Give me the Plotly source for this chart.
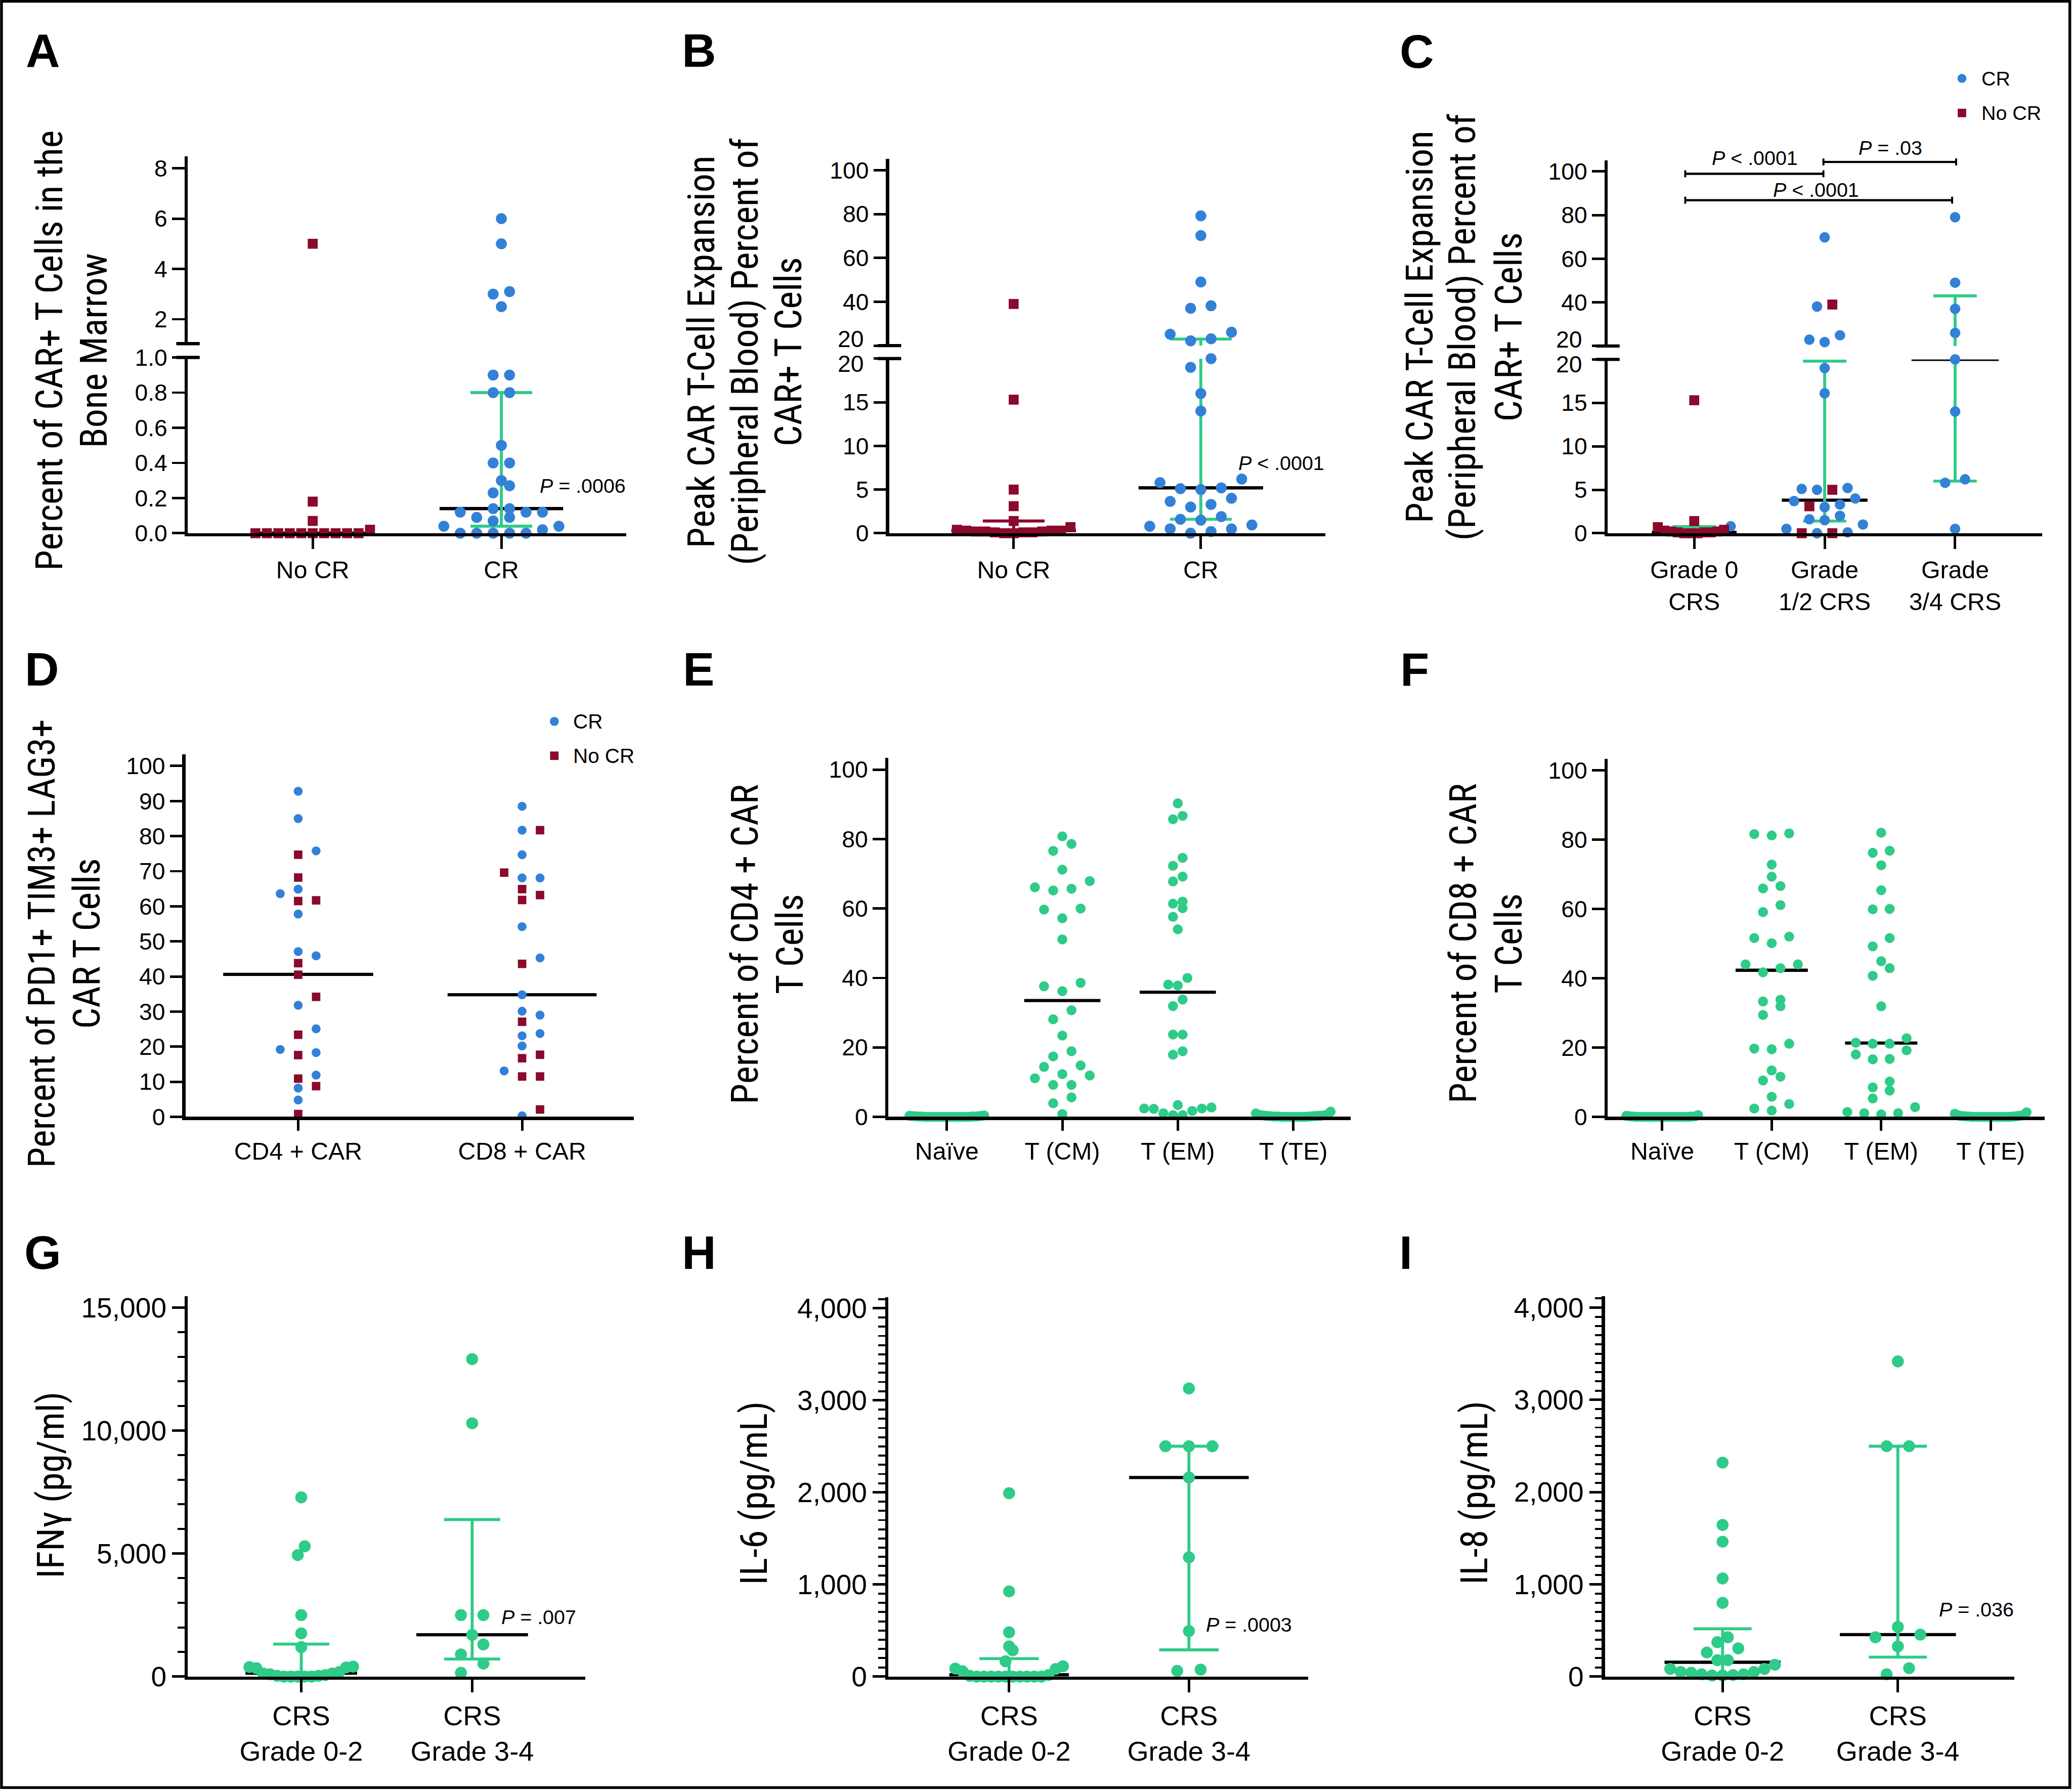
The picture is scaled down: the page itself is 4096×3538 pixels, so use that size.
import plotly.graph_objects as go

# ===================== DATA =====================
A_CATS = ["No CR", "CR"]
A_NOCR = [5.0, 0.18, 0.07, 0.02, 0, 0, 0, 0, 0, 0, 0, 0, 0, 0]
A_CR = [6.0, 5.0, 3.1, 3.0, 2.5, 0.9, 0.9, 0.8, 0.8, 0.5, 0.4, 0.4, 0.3, 0.27, 0.23,
        0.14, 0.14, 0.12, 0.12, 0.12, 0.09, 0.09, 0.07, 0.04, 0.04, 0.02, 0, 0, 0, 0, 0]
A_MEDIAN = [0.0, 0.14]
A_Q1 = [None, 0.04]
A_Q3 = [None, 0.80]
A_TICKS_LOW = [0, 0.2, 0.4, 0.6, 0.8, 1.0]
A_TICKTEXT_LOW = ["0.0", "0.2", "0.4", "0.6", "0.8", "1.0"]
A_TICKS_HIGH = [2, 4, 6, 8]
A_TICKTEXT_HIGH = ["2", "4", "6", "8"]
A_TITLE = ["Percent of CAR+ T Cells in the", "Bone Marrow"]
A_P = "<i>P</i> = .0006"

B_CATS = ["No CR", "CR"]
B_NOCR = [39, 15.3, 5.0, 3.1, 1.4, 0.7, 0.4, 0.3, 0.3, 0.3, 0.2, 0.2, 0.2, 0.1, 0.1, 0.1, 0.0, 0.0]
B_CR = [79.2, 70.2, 49, 38.2, 37, 26.1, 25.2, 23.1, 22.2, 20.0, 19.0, 16.0, 14.0, 6.2, 5.8, 5.2,
        5.1, 5.0, 4.0, 3.65, 3.3, 3.0, 1.9, 1.6, 1.5, 0.95, 0.8, 0.5, 0.5, 0.2, 0.0]
B_MEDIAN = [0.3, 5.2]
B_Q1 = [0.1, 1.6]
B_Q3 = [1.4, 23.0]
B_TICKS_LOW = [0, 5, 10, 15, 20]
B_TICKTEXT_LOW = ["0", "5", "10", "15", ""]
B_TICKS_HIGH = [20, 40, 60, 80, 100]
B_TICKTEXT_HIGH = ["", "40", "60", "80", "100"]
BREAK_LABEL = "20"
B_TITLE = ["Peak CAR T-Cell Expansion", "(Peripheral Blood) Percent of", "CAR+ T Cells"]
B_P = "<i>P</i> &lt; .0001"

C_CATS = ["Grade 0<br>CRS", "Grade<br>1/2 CRS", "Grade<br>3/4 CRS"]
C_CR = [[0.8],
        [69.8, 38.1, 24.9, 22.9, 21.8, 19.0, 16.1, 5.2, 5.1, 5.0, 4.0, 3.7, 3.3, 3.0, 2.0, 1.6, 1.5,
         1.0, 0.5, 0.1, 0.0],
        [79, 49, 37, 26, 20, 14, 6.2, 5.8, 0.5]]
C_NOCR = [[15.3, 1.4, 0.7, 0.4, 0.3, 0.2, 0.2, 0.1, 0.1, 0.1, 0, 0, 0],
          [39, 5.0, 3.1, 0.0, 0.0],
          []]
C_MEDIAN = [0.1, 3.8, 20.0]
C_Q1 = [0.0, 1.4, 6.0]
C_Q3 = [0.76, 19.8, 43.0]
C_PTEXT = ["<i>P</i> &lt; .0001", "<i>P</i> = .03", "<i>P</i> &lt; .0001"]
LEGEND_LABELS = ["CR", "No CR"]

D_CATS = ["CD4 + CAR", "CD8 + CAR"]
D_CR = [[92.8, 85.0, 75.8, 64.9, 63.6, 57.8, 47.1, 45.9, 31.8, 25.1, 19.2, 18.3, 11.9, 8.2, 4.8],
        [88.5, 81.7, 74.7, 68.1, 68.1, 54.2, 45.3, 34.8, 30.1, 29.0, 23.75, 23.1, 20.2, 13.1, 0.3]]
D_NOCR = [[74.7, 68.2, 61.7, 61.5, 43.8, 40.5, 34.2, 23.4, 17.6, 10.9, 8.75, 0.8],
          [81.7, 69.6, 64.9, 63.2, 61.8, 43.6, 27.1, 17.7, 16.7, 11.5, 11.5, 2.1]]
D_MEDIAN = [40.6, 34.8]
D_TICKS = [0, 10, 20, 30, 40, 50, 60, 70, 80, 90, 100]
D_TICKTEXT = ["0", "10", "20", "30", "40", "50", "60", "70", "80", "90", "100"]
D_TITLE = ["Percent of PD1+ TIM3+ LAG3+", "CAR T Cells"]

MEM_CATS = ["Naïve", "T (CM)", "T (EM)", "T (TE)"]
PCT_TICKS = [0, 20, 40, 60, 80, 100]
PCT_TICKTEXT = ["0", "20", "40", "60", "80", "100"]
E_VALUES = [
    [0.4, 0.3, 0.3, 0.2, 0.2, 0.2, 0.1, 0.1, 0.1, 0.1, 0.1, 0.1] + [0.0] * 18,
    [80.8, 78.6, 76.6, 71.2, 67.9, 66.1, 65.7, 65.2, 60.0, 59.7, 57.2, 51.1, 38.6, 37.6, 36.2,
     30.7, 28.1, 23.4, 18.9, 17.4, 14.8, 14.4, 12.3, 11.9, 11.1, 9.2, 9.2, 5.6, 3.9, 0.8],
    [90.3, 86.7, 85.7, 74.6, 72.3, 69.2, 67.8, 62.0, 61.4, 60.1, 57.6, 54.0, 40.0, 38.1, 37.8,
     33.8, 31.9, 23.7, 23.7, 18.9, 17.9, 3.4, 2.7, 2.4, 2.4, 2.3, 1.7, 1.05, 0.5, 0.5],
    [1.5, 1.0, 0.8, 0.6, 0.5, 0.5, 0.4, 0.4, 0.3, 0.3, 0.3, 0.2, 0.2, 0.2, 0.2, 0.1, 0.1, 0.1,
     0.1, 0.1] + [0.0] * 10,
]
E_MEDIAN = [0.0, 33.5, 35.9, 0.0]
E_TITLE = ["Percent of CD4 + CAR", "T Cells"]

F_VALUES = [
    [0.5, 0.3, 0.2, 0.2, 0.1, 0.1, 0.1, 0.1] + [0.0] * 22,
    [81.8, 81.6, 81.2, 72.8, 69.3, 66.6, 65.9, 61.1, 59.1, 52.0, 51.6, 50.1, 44.0, 44.0, 42.9,
     41.7, 33.8, 33.3, 31.9, 29.4, 21.1, 19.7, 19.5, 13.4, 11.6, 10.5, 5.8, 3.7, 2.4, 1.8],
    [82.0, 76.8, 76.2, 72.6, 65.4, 60.0, 59.9, 51.6, 49.2, 44.9, 42.9, 40.7, 31.9, 22.7, 21.4,
     21.1, 21.1, 19.2, 18.0, 16.7, 16.6, 10.2, 8.5, 7.6, 5.3, 2.8, 1.4, 1.05, 1.05, 0.7],
    [1.3, 0.9, 0.6, 0.5, 0.4, 0.3, 0.3, 0.2, 0.2, 0.2, 0.1, 0.1, 0.1, 0.1] + [0.0] * 16,
]
F_MEDIAN = [0.0, 42.3, 21.3, 0.0]
F_TITLE = ["Percent of CD8 + CAR", "T Cells"]

CRS_CATS = ["CRS<br>Grade 0-2", "CRS<br>Grade 3-4"]
G_VALUES = [[7283, 5295, 4938, 2500, 1755, 1196, 404, 388, 373, 342, 186, 124, 124, 93, 62, 31, 31,
             0, 0, 0, 0, 0],
            [12904, 10295, 2500, 2500, 1693, 1304, 901, 528, 155]]
G_MEDIAN = [140, 1700]
G_Q1 = [20, 714]
G_Q3 = [1320, 6382]
G_TICKS = [0, 5000, 10000, 15000]
G_TICKTEXT = ["0", "5,000", "10,000", "15,000"]
G_TITLE = ["IFNγ (pg/ml)"]
G_P = "<i>P</i> = .007"

H_VALUES = [[1992, 925, 481, 328, 286, 166, 112, 87, 83, 58, 17, 8, 0, 0, 0, 0, 0, 0, 0, 0, 0, 0],
            [3129, 2502, 2502, 2502, 2162, 1295, 494, 75, 62]]
H_MEDIAN = [20, 2162]
H_Q1 = [0, 290]
H_Q3 = [195, 2502]
K_TICKS = [0, 1000, 2000, 3000, 4000]
K_TICKTEXT = ["0", "1,000", "2,000", "3,000", "4,000"]
H_TITLE = ["IL-6 (pg/mL)"]
H_P = "<i>P</i> = .0003"

I_VALUES = [[2319, 1644, 1462, 1064, 799, 426, 373, 306, 261, 178, 178, 128, 83, 83, 50, 50, 41, 25,
             25, 17, 12, 12],
            [3416, 2497, 2497, 538, 455, 426, 327, 91, 25]]
I_MEDIAN = [155, 455]
I_Q1 = [30, 211]
I_Q3 = [518, 2497]
I_TITLE = ["IL-8 (pg/mL)"]
I_P = "<i>P</i> = .036"

# ===================== STYLE / GEOMETRY =====================
K = 0.985
FW, FH = 4096, 3538
RW, RH = FW / K, FH / K


def PX(x):
    return x / RW


def PY(y):
    return 1.0 - y / RH


def S(v):
    return v * K


TITLE_FONT = "Liberation Sans Narrow, Arial Narrow, Roboto Condensed, Liberation Sans, sans-serif"
FONT = "Liberation Sans, Arial, Helvetica, sans-serif"
BOLD = "Liberation Sans, Arial, Helvetica, sans-serif"
BLUE, RED, GREEN, BLACK = "#3281D7", "#8A0A2C", "#2FCB88", "#000000"
STYLE = {"CR": (BLUE, "circle"), "NOCR": (RED, "square"), "G": (GREEN, "circle")}
AXIS_W, MED_W, IQR_W = 6.5, 6.5, 6

fig = go.Figure()
LAYOUT, SHAPES, ANNOTS = {}, [], []
_count = {"x": 0, "y": 0}


def new_axis(kind):
    _count[kind] += 1
    n = _count[kind]
    return (f"{kind}axis" if n == 1 else f"{kind}axis{n}", kind if n == 1 else f"{kind}{n}")


def axis_common(ticklen):
    return dict(showline=True, linecolor=BLACK, linewidth=S(AXIS_W), showgrid=False, zeroline=False,
                ticks="outside", tickcolor=BLACK, tickwidth=S(5), ticklen=S(ticklen),
                fixedrange=True, tickmode="array", automargin=False)


def text_ann(x, y, text, size, xanchor="center", yanchor="middle", angle=0, family=FONT):
    ANNOTS.append(dict(x=PX(x), y=PY(y), xref="paper", yref="paper", text=text, showarrow=False,
                       xanchor=xanchor, yanchor=yanchor, textangle=angle,
                       font=dict(family=family, size=S(size), color=BLACK)))


def paper_line(x0, y0, x1, y1, width, color=BLACK):
    SHAPES.append(dict(type="line", xref="paper", yref="paper", x0=PX(x0), y0=PY(y0),
                       x1=PX(x1), y1=PY(y1), line=dict(color=color, width=S(width))))


def swarm_offsets(vals, vpix, step, wmax, thr, centered=True):
    n = len(vals)
    order = sorted(range(n), key=lambda i: (vals[i], i))
    off = [0.0] * n
    rows, cur = [], []
    for i in order:
        if cur and abs(vpix[i] - vpix[cur[0]]) > thr:
            rows.append(cur)
            cur = []
        cur.append(i)
    if cur:
        rows.append(cur)
    for row in rows:
        m = len(row)
        s = step
        if m > 1 and (m - 1) * s > 2 * wmax:
            s = 2 * wmax / (m - 1)
        if centered:
            slots = [(k - (m - 1) / 2) * s for k in range(m)]
            slots.sort(key=lambda z: (round(abs(z), 6), z))
        else:
            slots = [0.0]
            k = 1
            while len(slots) < m:
                slots.append(k * s)
                if len(slots) < m:
                    slots.append(-k * s)
                k += 1
        for i, sl in zip(row, slots):
            off[i] = sl
    return off


def build_panel(P):
    segs = P["segs"]
    xkey, xref = new_axis("x")
    yaxes = []
    for seg in segs:
        ykey, yref = new_axis("y")
        f = (seg["v2"] - seg["v1"]) / (seg["p2"] - seg["p1"])
        seg["range"] = [seg["v1"] + (seg["pb"] - seg["p1"]) * f,
                        seg["v1"] + (seg["pt"] - seg["p1"]) * f]
        ax = axis_common(25)
        ax.update(domain=[PY(seg["pb"]), PY(seg["pt"])], range=seg["range"], anchor=xref,
                  tickvals=seg["tickvals"], ticktext=seg["ticktext"],
                  tickfont=dict(family=FONT, size=S(P["tickfont"]), color=BLACK))
        if P.get("minor"):
            ax["minor"] = dict(tickmode="linear", tick0=0, dtick=P["minor"], ticks="outside",
                               ticklen=S(14), tickwidth=S(4), tickcolor=BLACK, showgrid=False)
        LAYOUT[ykey] = ax
        yaxes.append(yref)
    cpx = P["cats_px"]
    n = len(cpx)
    scale = (cpx[-1] - cpx[0]) / (n - 1)
    ax = axis_common(P.get("xticklen", 25))
    ax.update(domain=[PX(P["ax"]), PX(P["xr"])],
              range=[(P["ax"] - cpx[0]) / scale, (P["xr"] - cpx[0]) / scale],
              anchor=yaxes[0], tickvals=list(range(n)), ticktext=P["cats"],
              tickfont=dict(family=FONT, size=S(P["catfont"]), color=BLACK))
    LAYOUT[xkey] = ax

    def seg_index(v):
        if len(segs) > 1 and v > segs[0]["range"][1] + 1e-9:
            return 1
        return 0

    def vpix(v):
        s = segs[seg_index(v)]
        return s["p1"] + (v - s["v1"]) * (s["p2"] - s["p1"]) / (s["v2"] - s["v1"])

    def line_trace(xs, ys, j, color, width):
        fig.add_trace(go.Scatter(x=xs, y=ys, xaxis=xref, yaxis=yaxes[j], mode="lines",
                                 line=dict(color=color, width=S(width)), hoverinfo="skip",
                                 showlegend=False))

    def hline(ci, half, v, color, width):
        line_trace([ci - half / scale, ci + half / scale], [v, v], seg_index(v), color, width)

    def vline(ci, v0, v1, color, width):
        j0, j1 = seg_index(v0), seg_index(v1)
        if j0 == j1:
            line_trace([ci, ci], [v0, v1], j0, color, width)
        else:
            line_trace([ci, ci], [v0, segs[0]["range"][1]], 0, color, width)
            line_trace([ci, ci], [segs[1]["range"][0], v1], 1, color, width)

    for ci in range(n):
        if P["median"][ci] is not None:
            hline(ci, P["med_w"][ci] / 2, P["median"][ci], BLACK, MED_W)
        q1 = P.get("q1", [None] * n)[ci]
        q3 = P.get("q3", [None] * n)[ci]
        if q1 is not None and q3 is not None:
            col = P["iqr_color"][ci]
            vline(ci, q1, q3, col, IQR_W)
            hline(ci, P["cap_w"] / 2, q1, col, IQR_W)
            hline(ci, P["cap_w"] / 2, q3, col, IQR_W)

    for ci, groups in enumerate(P["groups"]):
        vals, keys = [], []
        for arr, key in groups:
            vals += list(arr)
            keys += [key] * len(arr)
        if not vals:
            continue
        pix = [vpix(v) for v in vals]
        offs = swarm_offsets(vals, pix, P["steps"][ci], P["wmax"], P["msize"],
                             P.get("centered", True))
        for key in dict.fromkeys(keys):
            color, sym = STYLE[key]
            size = P.get("ssize", P["msize"]) if sym == "square" else P["msize"]
            for j in range(len(segs)):
                idx = [k for k in range(len(vals)) if keys[k] == key and seg_index(vals[k]) == j]
                if not idx:
                    continue
                fig.add_trace(go.Scatter(
                    x=[ci + offs[k] / scale for k in idx], y=[vals[k] for k in idx],
                    xaxis=xref, yaxis=yaxes[j], mode="markers", cliponaxis=False,
                    marker=dict(color=color, symbol=sym, size=S(size), line=dict(width=0)),
                    hoverinfo="skip", showlegend=False))

    if len(segs) > 1:
        for p in (segs[0]["pt"], segs[1]["pb"]):
            paper_line(P["ax"] - 23, p, P["ax"] + 24, p, AXIS_W)
        if P.get("break_label"):
            text_ann(P["ax"] - 50, segs[1]["pb"] - 13, BREAK_LABEL, P["tickfont"], xanchor="right")
            text_ann(P["ax"] - 50, segs[0]["pt"] + 10, BREAK_LABEL, P["tickfont"], xanchor="right")
    for x, t in zip(P["title_x"], P["title"]):
        text_ann(x, P["title_y"], t, 75, angle=-90, family=TITLE_FONT)
    text_ann(P["letter_xy"][0], P["letter_xy"][1], "<b>%s</b>" % P["letter"], 95, family=BOLD)
    if P.get("ptext"):
        text_ann(P["p_xy"][0], P["p_xy"][1], P["ptext"], 40)
    return scale


TICK_S, CAT_S = 47, 49
TICK_L, CAT_L = 56, 55

PA = dict(letter="A", letter_xy=(86, 101), ax=376.8, xr=1257, cats_px=[627.6, 1006.2], cats=A_CATS,
          segs=[dict(v1=0, p1=1070, v2=1.0, p2=717.3, pb=1070, pt=717.3,
                     tickvals=A_TICKS_LOW, ticktext=A_TICKTEXT_LOW),
                dict(v1=2, p1=640.6, v2=8, p2=337.7, pb=689.6, pt=314,
                     tickvals=A_TICKS_HIGH, ticktext=A_TICKTEXT_HIGH)],
          groups=[[(A_NOCR, "NOCR")], [(A_CR, "CR")]],
          median=A_MEDIAN, q1=A_Q1, q3=A_Q3, iqr_color=[RED, GREEN], med_w=[248, 248], cap_w=124,
          steps=[23, 33], wmax=120, msize=22, ssize=20, tickfont=TICK_S, catfont=CAT_S,
          title=A_TITLE, title_x=[99, 188], title_y=704, ptext=A_P, p_xy=(1170, 975))

PB = dict(letter="B", letter_xy=(1403, 101), ax=1784.6, xr=2659.8, cats_px=[2034.4, 2410.0],
          cats=B_CATS,
          segs=[dict(v1=0, p1=1070, v2=20, p2=719.6, pb=1070, pt=719.6,
                     tickvals=B_TICKS_LOW, ticktext=B_TICKTEXT_LOW),
                dict(v1=20, p1=693.5, v2=100, p2=341.6, pb=693.5, pt=318.7,
                     tickvals=B_TICKS_HIGH, ticktext=B_TICKTEXT_HIGH)],
          groups=[[(B_NOCR, "NOCR")], [(B_CR, "CR")]],
          median=B_MEDIAN, q1=B_Q1, q3=B_Q3, iqr_color=[RED, GREEN], med_w=[250, 250], cap_w=124,
          steps=[19, 41], wmax=120, msize=22, ssize=20, tickfont=TICK_S, catfont=CAT_S,
          break_label=True,
          title=B_TITLE, title_x=[1408, 1495, 1582.5], title_y=706, ptext=B_P, p_xy=(2572, 929))

PC = dict(letter="C", letter_xy=(2844, 103), ax=3226.5, xr=4098.3,
          cats_px=[3400.2, 3661.5, 3923.8], cats=C_CATS,
          segs=[dict(v1=0, p1=1070, v2=20, p2=721.2, pb=1070, pt=721.2,
                     tickvals=B_TICKS_LOW, ticktext=B_TICKTEXT_LOW),
                dict(v1=20, p1=694.3, v2=100, p2=344, pb=694.3, pt=321.9,
                     tickvals=B_TICKS_HIGH, ticktext=B_TICKTEXT_HIGH)],
          groups=[[(C_CR[i], "CR"), (C_NOCR[i], "NOCR")] for i in range(3)],
          median=C_MEDIAN, q1=C_Q1, q3=C_Q3, iqr_color=[GREEN] * 3, med_w=[170, 172, 175], cap_w=87,
          steps=[13.3, 30.7, 40], wmax=90, msize=21, ssize=20, tickfont=TICK_S, catfont=CAT_S,
          break_label=True, title=B_TITLE, title_x=[2848.5, 2934.4, 3027.6], title_y=656)

PD = dict(letter="D", letter_xy=(84, 1343), ax=372.3, xr=1272, cats_px=[598.4, 1047.8], cats=D_CATS,
          segs=[dict(v1=0, p1=2241.1, v2=100, p2=1537, pb=2241.1, pt=1513.6,
                     tickvals=D_TICKS, ticktext=D_TICKTEXT)],
          groups=[[(D_CR[i], "CR"), (D_NOCR[i], "NOCR")] for i in range(2)],
          median=D_MEDIAN, med_w=[301, 299], steps=[36, 36], wmax=200, centered=False,
          msize=18, ssize=17, tickfont=TICK_S, catfont=CAT_S, xticklen=21,
          title=D_TITLE, title_x=[84, 174.6], title_y=1893)

PE = dict(letter="E", letter_xy=(1401.6, 1343), ax=1782.8, xr=2710.3,
          cats_px=[1900.3, 2131.7, 2364.1, 2595.5], cats=MEM_CATS,
          segs=[dict(v1=0, p1=2241.1, v2=100, p2=1544.4, pb=2241.1, pt=1520.9,
                     tickvals=PCT_TICKS, ticktext=PCT_TICKTEXT)],
          groups=[[(E_VALUES[i], "G")] for i in range(4)],
          median=E_MEDIAN, med_w=[153] * 4, steps=[19, 36.7, 19.3, 19], wmax=75,
          msize=20, tickfont=TICK_S, catfont=CAT_S, xticklen=21,
          title=E_TITLE, title_x=[1495.3, 1585.3], title_y=1895)

PF = dict(letter="F", letter_xy=(2839.5, 1343), ax=3226.5, xr=4103.7,
          cats_px=[3336, 3555.7, 3776.4, 3995.2], cats=MEM_CATS,
          segs=[dict(v1=0, p1=2241.1, v2=100, p2=1545.8, pb=2241.1, pt=1522.4,
                     tickvals=PCT_TICKS, ticktext=PCT_TICKTEXT)],
          groups=[[(F_VALUES[i], "G")] for i in range(4)],
          median=F_MEDIAN, med_w=[145] * 4, steps=[19, 35, 34, 19], wmax=72,
          msize=20, tickfont=TICK_S, catfont=CAT_S, xticklen=21,
          title=F_TITLE, title_x=[2936.2, 3027.6], title_y=1893)

PG = dict(letter="G", letter_xy=(86, 2513), ax=376.8, xr=1174.6, cats_px=[604.6, 947.6],
          cats=CRS_CATS,
          segs=[dict(v1=0, p1=3364.3, v2=15000, p2=2623.8, pb=3364.3, pt=2600.8,
                     tickvals=G_TICKS, ticktext=G_TICKTEXT)],
          groups=[[(G_VALUES[i], "G")] for i in range(2)], minor=1000,
          median=G_MEDIAN, q1=G_Q1, q3=G_Q3, iqr_color=[GREEN] * 2, med_w=[224, 224], cap_w=112.6,
          steps=[14, 45], wmax=104, msize=24, tickfont=TICK_L, catfont=CAT_L,
          title=G_TITLE, title_x=[102], title_y=2980, ptext=G_P, p_xy=(1081.6, 3244.7))

PH = dict(letter="H", letter_xy=(1403.5, 2513), ax=1782.8, xr=2624.9, cats_px=[2025.2, 2386.1],
          cats=CRS_CATS,
          segs=[dict(v1=0, p1=3364.3, v2=4000, p2=2625.3, pb=3364.3, pt=2603.1,
                     tickvals=K_TICKS, ticktext=K_TICKTEXT)],
          groups=[[(H_VALUES[i], "G")] for i in range(2)], minor=100,
          median=H_MEDIAN, q1=H_Q1, q3=H_Q3, iqr_color=[GREEN] * 2, med_w=[240, 240], cap_w=119.4,
          steps=[14.4, 47], wmax=110, msize=24, tickfont=TICK_L, catfont=CAT_L,
          title=H_TITLE, title_x=[1513.7], title_y=2995.6, ptext=H_P, p_xy=(2507, 3260))

PI = dict(letter="I", letter_xy=(2821.4, 2513), ax=3221.1, xr=4042.2, cats_px=[3457.1, 3808.9],
          cats=CRS_CATS,
          segs=[dict(v1=0, p1=3364.3, v2=4000, p2=2623.8, pb=3364.3, pt=2600.8,
                     tickvals=K_TICKS, ticktext=K_TICKTEXT)],
          groups=[[(I_VALUES[i], "G")] for i in range(2)], minor=100,
          median=I_MEDIAN, q1=I_Q1, q3=I_Q3, iqr_color=[GREEN] * 2, med_w=[233, 233], cap_w=116.7,
          steps=[21, 45], wmax=106, msize=24, tickfont=TICK_L, catfont=CAT_L,
          title=I_TITLE, title_x=[2958.8], title_y=2995.6, ptext=I_P, p_xy=(3966, 3229.4))

for P in (PA, PB, PC, PD, PE, PF, PG, PH, PI):
    build_panel(P)

# ---------------- C comparison brackets ----------------
cpx = PC["cats_px"]
BR_Y = [348.7, 325.0, 401.7]
BR_X = [(cpx[0] - 18, cpx[1] - 2), (cpx[1] - 2, cpx[2] + 2), (cpx[0] - 18, cpx[2] - 6)]
BR_TXT = [(3522.2, 316.3), (3793.6, 296.6), (3644.3, 381.2)]
for (x0, x1), y, (tx, ty), t in zip(BR_X, BR_Y, BR_TXT, C_PTEXT):
    paper_line(x0, y, x1, y, 4.5)
    paper_line(x0, y - 7, x0, y + 7, 4)
    paper_line(x1, y - 7, x1, y + 7, 4)
    text_ann(tx, ty, t, 40)


# ---------------- manual legends (C and D) ----------------
def legend(cx, cy_cr, cy_nocr, tx, size):
    r = 9
    SHAPES.append(dict(type="circle", xref="paper", yref="paper", x0=PX(cx - r), x1=PX(cx + r),
                       y0=PY(cy_cr + r), y1=PY(cy_cr - r), fillcolor=BLUE, line=dict(width=0)))
    h = 8.5
    SHAPES.append(dict(type="rect", xref="paper", yref="paper", x0=PX(cx - h), x1=PX(cx + h),
                       y0=PY(cy_nocr + h), y1=PY(cy_nocr - h), fillcolor=RED, line=dict(width=0)))
    text_ann(tx, cy_cr, LEGEND_LABELS[0], size, xanchor="left")
    text_ann(tx, cy_nocr, LEGEND_LABELS[1], size, xanchor="left")


legend(3937.5, 157.3, 226.7, 3975, 40)
legend(1112.5, 1447.6, 1516.5, 1148, 41)

# ---------------- outer frame ----------------
SHAPES.append(dict(type="rect", xref="paper", yref="paper", x0=PX(3), x1=PX(4154), y0=PY(3587),
                   y1=PY(2.5), line=dict(color=BLACK, width=S(5.5)), fillcolor="rgba(0,0,0,0)"))

fig.update_layout(template="none", width=FW, height=FH, autosize=False,
                  margin=dict(l=0, r=0, t=0, b=0, pad=0, autoexpand=False),
                  paper_bgcolor="white", plot_bgcolor="rgba(0,0,0,0)", showlegend=False,
                  hovermode=False, shapes=SHAPES, annotations=ANNOTS, **LAYOUT)

PAGE_FIX = (
    "document.documentElement.style.margin='0';document.documentElement.style.padding='0';"
    "document.body.style.margin='0';document.body.style.padding='0';"
    "document.documentElement.style.overflow='hidden';document.body.style.overflow='hidden';"
    "var gd=document.getElementById('{plot_id}');"
    "gd.style.position='fixed';gd.style.left='0px';gd.style.top='0px';"
)
fig.write_html("out.html", post_script=PAGE_FIX,
               config={"displayModeBar": False, "responsive": False, "staticPlot": True})
